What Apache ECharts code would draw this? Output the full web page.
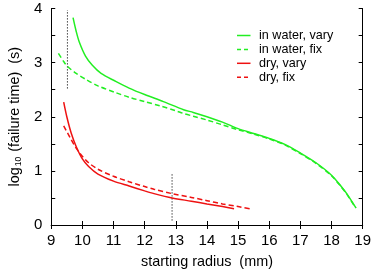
<!DOCTYPE html>
<html><head><meta charset="utf-8">
<script src="https://cdn.jsdelivr.net/npm/echarts@6/dist/echarts.min.js"></script>
<style>html,body{margin:0;padding:0;background:#fff}#c{width:374px;height:274px}</style>
</head><body><div id="c"></div>
<script>
const seriesNames = ['in water, vary', 'in water, fix', 'dry, vary', 'dry, fix'];
const waterVaryX = [9.70, 9.80, 9.90, 10.10, 10.32, 10.60, 11.05, 11.50, 12.00, 12.60, 13.25, 13.56, 14.00, 14.50, 15.00, 15.50, 16.00, 16.50, 17.00, 17.50, 18.00, 18.30, 18.50, 18.79];
const waterVaryY = [3.83, 3.58, 3.38, 3.12, 2.95, 2.80, 2.66, 2.53, 2.41, 2.28, 2.13, 2.08, 2.00, 1.90, 1.78, 1.69, 1.60, 1.49, 1.33, 1.15, 0.92, 0.72, 0.57, 0.31];
const waterFixX = [9.23, 9.40, 9.52, 9.80, 10.11, 10.50, 11.05, 11.50, 12.00, 12.50, 13.00, 13.25, 13.56, 14.00, 14.50, 15.00, 15.50, 16.00, 16.50, 17.00, 17.50, 18.00, 18.30, 18.50, 18.77];
const waterFixY = [3.17, 3.02, 2.93, 2.80, 2.69, 2.57, 2.45, 2.36, 2.28, 2.20, 2.11, 2.06, 2.01, 1.94, 1.85, 1.76, 1.68, 1.59, 1.48, 1.32, 1.14, 0.91, 0.71, 0.56, 0.32];
const dryVaryX = [9.40, 9.50, 9.64, 9.80, 10.00, 10.20, 10.50, 11.00, 11.50, 12.00, 12.30, 12.88, 13.50, 14.00, 14.50, 14.87];
const dryVaryY = [2.27, 2.00, 1.70, 1.45, 1.22, 1.08, 0.94, 0.81, 0.72, 0.63, 0.58, 0.50, 0.44, 0.39, 0.34, 0.30];
const dryFixX = [9.40, 9.60, 9.80, 10.00, 10.20, 10.50, 11.00, 11.50, 12.00, 12.30, 12.88, 13.50, 14.00, 14.50, 15.00, 15.39];
const dryFixY = [1.83, 1.62, 1.42, 1.27, 1.15, 1.03, 0.90, 0.80, 0.71, 0.66, 0.58, 0.51, 0.45, 0.39, 0.34, 0.30];
const markerLineX = [9.52, 12.88];
const markerLineY0 = [2.52, 0.08];
const markerLineY1 = [3.97, 0.94];
const xTicks = [9, 10, 11, 12, 13, 14, 15, 16, 17, 18, 19];
const yTicks = [0, 1, 2, 3, 4];

const zip = (xs, ys) => xs.map((x, i) => [x, ys[i]]);
const green = '#22ee22', red = '#ee1111';
const colors = [green, green, red, red];
const dashedFlags = [false, true, false, true];
const font = 'Liberation Sans, Arial, sans-serif';

function mk(name, xs, ys, color, dashed) {
  return { name, type: 'line', data: zip(xs, ys), showSymbol: false, symbol: 'none', smooth: 0.3,
    lineStyle: { color, width: 1.5, type: dashed ? [5, 3] : 'solid' }, itemStyle: { color }, z: 3 };
}
const series = [
  mk(seriesNames[0], waterVaryX, waterVaryY, colors[0], dashedFlags[0]),
  mk(seriesNames[1], waterFixX, waterFixY, colors[1], dashedFlags[1]),
  mk(seriesNames[2], dryVaryX, dryVaryY, colors[2], dashedFlags[2]),
  mk(seriesNames[3], dryFixX, dryFixY, colors[3], dashedFlags[3]),
];
markerLineX.forEach((x, i) => {
  series.push({ type: 'line', data: [[x, markerLineY0[i]], [x, markerLineY1[i]]], symbol: 'none',
    lineStyle: { color: '#444', width: 1, type: [1.5, 1.5] }, z: 2, silent: true });
});

// legend drawn as graphic (line samples + labels)
const legendGraphics = [];
seriesNames.forEach((n, i) => {
  const cy = 35.5 + i * 13.9;
  legendGraphics.push({ type: 'line', shape: { x1: 237, y1: cy, x2: 250.5, y2: cy },
    style: { stroke: colors[i], lineWidth: 1.5, lineDash: dashedFlags[i] ? [4, 3] : null } });
  legendGraphics.push({ type: 'text', x: 259, y: cy, style: { text: n, fill: '#000', font: '12.6px ' + font,
    textVerticalAlign: 'middle', verticalAlign: 'middle' } });
});

const axisCommon = {
  axisLine: { show: true, lineStyle: { color: '#000', width: 1 } },
  axisTick: { show: true, inside: true, length: 4, lineStyle: { color: '#000' } },
  splitLine: { show: false },
};
const option = {
  animation: false,
  grid: { left: 44.5, right: 10.5, top: 8.5, bottom: 43, containLabel: false },
  graphic: legendGraphics,
  xAxis: [
    Object.assign({}, axisCommon, { type: 'value', min: xTicks[0], max: xTicks[xTicks.length - 1], interval: 1,
      name: 'starting radius  (mm)', nameLocation: 'middle', nameGap: 30,
      nameTextStyle: { fontFamily: font, fontSize: 14.4, color: '#000' },
      axisLabel: { fontFamily: font, fontSize: 15, color: '#000', margin: 8 } }),
    Object.assign({}, axisCommon, { type: 'value', position: 'top', min: xTicks[0], max: xTicks[xTicks.length - 1], interval: 1,
      axisLabel: { show: false } }),
  ],
  yAxis: [
    Object.assign({}, axisCommon, { type: 'value', min: yTicks[0], max: yTicks[yTicks.length - 1], interval: 0.5,
      name: '{a|log}{b|10}{a| (failure time)  (s)}', nameLocation: 'middle', nameGap: 24,
      nameTextStyle: { fontFamily: font, fontSize: 14.4, color: '#000',
        rich: { a: { fontFamily: font, fontSize: 14.4, color: '#000' },
                b: { fontFamily: font, fontSize: 8.5, color: '#000', verticalAlign: 'bottom', padding: [7, 1, 0, 1] } } },
      axisLabel: { fontFamily: font, fontSize: 15, color: '#000', margin: 9,
        formatter: v => (yTicks.indexOf(v) >= 0 ? String(v) : '') } }),
    Object.assign({}, axisCommon, { type: 'value', position: 'right', min: yTicks[0], max: yTicks[yTicks.length - 1], interval: 0.5,
      axisLabel: { show: false } }),
  ],
  series,
};
echarts.init(document.getElementById('c'), null, { renderer: 'canvas' }).setOption(option);
</script></body></html>
